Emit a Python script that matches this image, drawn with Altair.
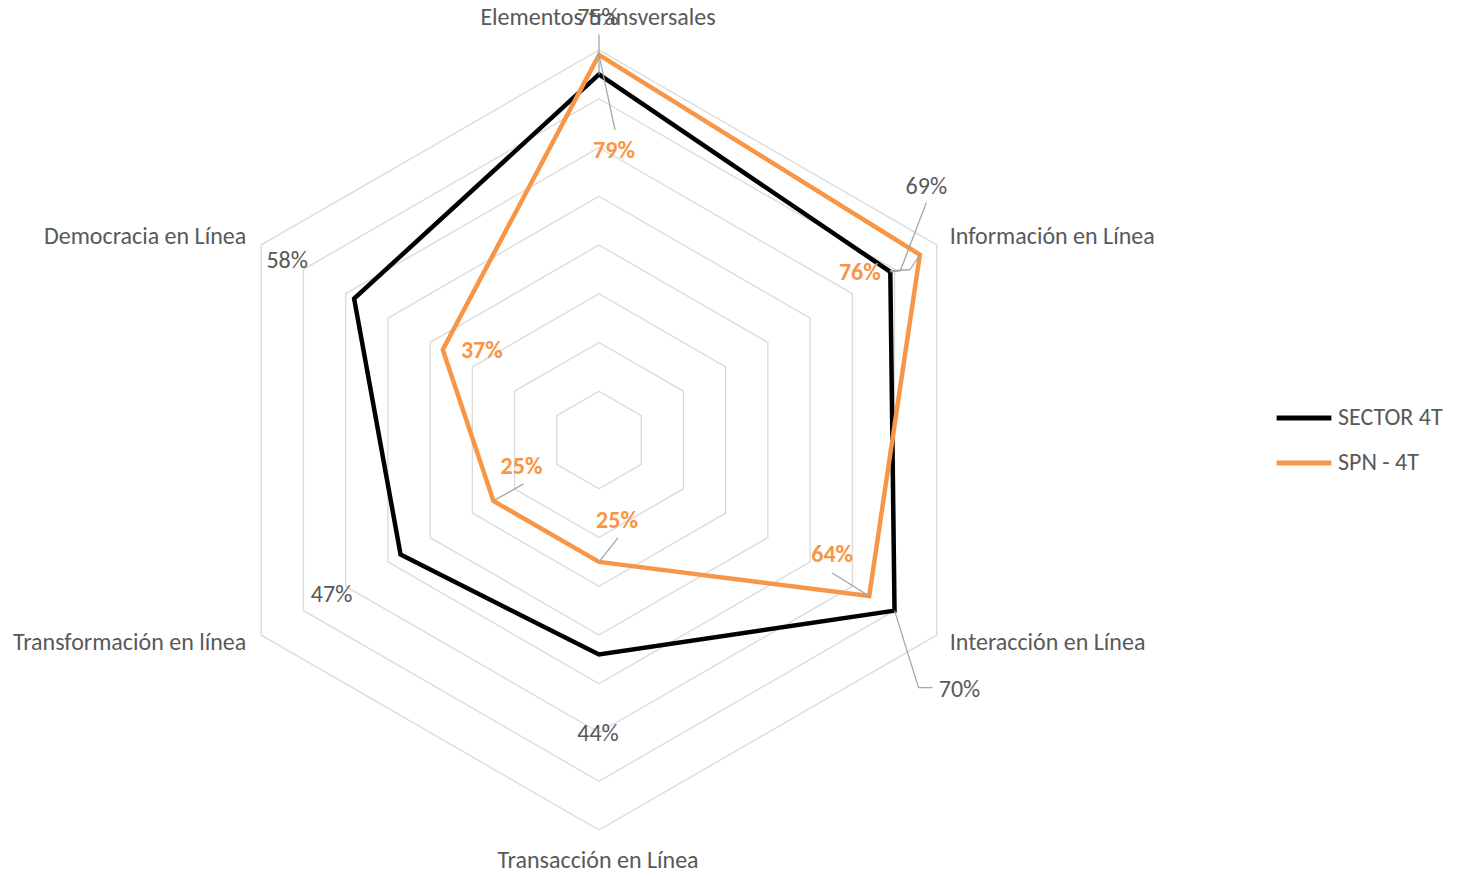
import altair as alt
import pandas as pd

# ---------------- data ----------------
categories = [
    "Elementos transversales",
    "Información en Línea",
    "Interacción en Línea",
    "Transacción en Línea",
    "Transformación en línea",
    "Democracia en Línea",
]
sector_values = [75, 69, 70, 44, 47, 58]
spn_values = [79, 76, 64, 25, 25, 37]
series_names = ["SECTOR 4T", "SPN - 4T"]
ring_levels = [10, 20, 30, 40, 50, 60, 70, 80]
axis_max = 80

# ---------------- layout / style ----------------
W, H = 1443, 860
CX, CY = 591, 432            # centre of the radar in plot pixels
PX = 390 / axis_max          # pixels per percentage point
XD = [-CX / PX, (W - CX) / PX]
YD = [-(H - CY) / PX, CY / PX]
FONT = "Carlito, Lato"
FS = 24
GRAY_TXT = "#595959"
ORANGE = "#F79646"
N = len(categories)

rows = []
for s, vals in zip(series_names, [sector_values, spn_values]):
    for i, (c, v) in enumerate(zip(categories, vals)):
        rows.append({"series": s, "category": c, "idx": i, "value": v})
df = pd.DataFrame(rows)
ring_df = pd.DataFrame([{"ring": r, "idx": i} for r in ring_levels for i in range(N)])
cat_df = pd.DataFrame({"category": categories, "idx": list(range(N)), "value": [axis_max] * N})

xs = alt.Scale(domain=XD, nice=False, zero=False)
ys = alt.Scale(domain=YD, nice=False, zero=False)


def polar(ch, rfield):
    return ch.transform_calculate(
        ang=f"datum.idx * 2 * PI / {N}",
        px=f"datum.{rfield} * sin(datum.ang)",
        py=f"datum.{rfield} * cos(datum.ang)",
    )


X = alt.X("px:Q", scale=xs, axis=None)
Y = alt.Y("py:Q", scale=ys, axis=None)

grid = polar(alt.Chart(ring_df), "ring").mark_line(
    interpolate="linear-closed", stroke="#D9D9D9", strokeWidth=1.3
).encode(x=X, y=Y, detail="ring:N", order="idx:Q")

lines = polar(alt.Chart(df), "value").mark_line(
    interpolate="linear-closed", strokeWidth=4.5, strokeJoin="miter"
).encode(
    x=X, y=Y, order="idx:Q",
    color=alt.Color(
        "series:N",
        scale=alt.Scale(domain=series_names, range=["#000000", ORANGE]),
        legend=alt.Legend(
            orient="none", legendX=1266, legendY=380, title=None,
            symbolType="stroke", symbolStrokeWidth=5, symbolSize=3000,
            labelFont=FONT, labelFontSize=FS, labelColor=GRAY_TXT,
            labelOffset=4, rowPadding=3, padding=0,
        ),
    ),
)

layers = [grid, lines]

# category labels: (align, dx, dy) relative to the outer vertex
cat_style = {
    0: ("center", -1, -32),
    1: ("left", 13, -8),
    2: ("left", 13, 8),
    3: ("center", -1, 31),
    4: ("right", -15, 8),
    5: ("right", -15, -8),
}
for i, (al, dx, dy) in cat_style.items():
    layers.append(
        polar(alt.Chart(cat_df), "value").transform_filter(f"datum.idx == {i}").mark_text(
            align=al, baseline="middle", dx=dx, dy=dy, font=FONT, fontSize=FS, color=GRAY_TXT
        ).encode(x=X, y=Y, text="category:N")
    )

# leader lines (pixel offsets from the data point)
leaders = {
    ("SECTOR 4T", 0): [(0, 0), (0, -40)],
    ("SECTOR 4T", 1): [(0, 0), (10, -1), (36, -69)],
    ("SECTOR 4T", 2): [(0, 0), (24, 77), (38, 77)],
    ("SPN - 4T", 0): [(0, 0), (16, 75)],
    ("SPN - 4T", 1): [(0, 0), (-10, 15), (-30, 16)],
    ("SPN - 4T", 2): [(0, 0), (-37, -23)],
    ("SPN - 4T", 3): [(0, 0), (19, -24)],
    ("SPN - 4T", 4): [(0, 0), (30, -17)],
}
for (s, i), pts in leaders.items():
    for (ax, ay), (bx, by) in zip(pts[:-1], pts[1:]):
        layers.append(
            polar(alt.Chart(df), "value")
            .transform_filter(f"datum.series == '{s}' && datum.idx == {i}")
            .transform_calculate(
                x1=f"datum.px + {ax} / {PX}", y1=f"datum.py - {ay} / {PX}",
                x2=f"datum.px + {bx} / {PX}", y2=f"datum.py - {by} / {PX}",
            )
            .mark_rule(color="#A6A6A6", strokeWidth=1.3)
            .encode(x=alt.X("x1:Q", scale=xs, axis=None), y=alt.Y("y1:Q", scale=ys, axis=None),
                    x2="x2:Q", y2="y2:Q")
        )

# data labels (pixel offsets from the data point)
label_off = {
    "SECTOR 4T": [(-1, -56), (36, -85), (65, 79), (-1, 79), (-69, 40), (-67, -38)],
    "SPN - 4T": [(15, 96), (-60, 18), (-37, -41), (18, -41), (28, -34), (39, 1)],
}
for s, offs in label_off.items():
    bold = s == "SPN - 4T"
    for i, (dx, dy) in enumerate(offs):
        layers.append(
            polar(alt.Chart(df), "value")
            .transform_filter(f"datum.series == '{s}' && datum.idx == {i}")
            .transform_calculate(lab="datum.value + '%'")
            .mark_text(
                align="center", baseline="middle", dx=dx, dy=dy, font=FONT, fontSize=FS,
                fontWeight="bold" if bold else "normal",
                color=ORANGE if bold else GRAY_TXT,
            )
            .encode(x=X, y=Y, text="lab:N")
        )

chart = alt.layer(*layers).properties(
    width=W, height=H, padding=0,
    autosize=alt.AutoSizeParams(type="none"),
).configure_view(stroke=None)

chart.save("out.html", embed_options={"renderer": "svg", "actions": False})
